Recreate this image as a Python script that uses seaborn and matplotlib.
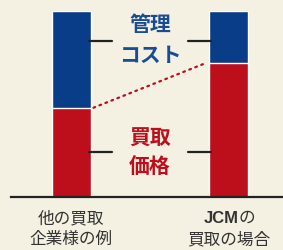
import matplotlib
matplotlib.use('Agg')
import matplotlib.pyplot as plt
import seaborn as sns
import pandas as pd

categories = ['他の買取\n企業様の例', 'JCMの\n買取の場合']
price = [48, 72]          # 買取価格 (red)
cost = [52, 28]           # 管理コスト (blue)
total = [p + c for p, c in zip(price, cost)]

df = pd.DataFrame({'cat': categories, 'price': price, 'total': total})

bg = '#F4F1E2'
blue = '#0A3D87'
red = '#BC0F1B'

sns.set_theme(style='white')
plt.rcParams['font.family'] = ['Noto Sans CJK JP', 'DejaVu Sans']

fig = plt.figure(figsize=(2.83, 2.5), dpi=100, facecolor=bg)
ax = fig.add_axes([11 / 283, 53 / 250, 272 / 283, 186 / 250])
ax.set_facecolor(bg)

# stacked bars: total in blue, price on top of it in red
sns.barplot(data=df, x='cat', y='total', color=blue, width=0.25,
            saturation=1, ax=ax)
sns.barplot(data=df, x='cat', y='price', color=red, width=0.25,
            saturation=1, ax=ax)

ax.set_xlim(-0.385, 1.347)
ax.set_ylim(0, 100)
ax.set_xlabel('')
ax.set_ylabel('')
ax.set_xticks([])
ax.set_yticks([])
for s in ['top', 'right', 'left']:
    ax.spines[s].set_visible(False)
ax.spines['bottom'].set_color('#222222')
ax.spines['bottom'].set_linewidth(1.6)

# dotted connection between tops of the red parts
ax.plot([0.14, 0.855], [price[0], price[1]], color=red, lw=1.6,
        linestyle=(0, (0.8, 2.1)), dash_capstyle='round', clip_on=False)

# leader lines
cost_mid = 84
price_mid = 24
for y in [cost_mid, price_mid]:
    ax.plot([0.11, 0.26], [y, y], color='#222222', lw=1.6, clip_on=False)
    ax.plot([0.74, 0.89], [y, y], color='#222222', lw=1.6, clip_on=False)

ax.text(0.5, 92.5, '管理', color='#1A4C95', fontsize=15, fontweight='bold',
        ha='center', va='center')
ax.text(0.5, 76, 'コスト', color='#1A4C95', fontsize=15, fontweight='bold',
        ha='center', va='center')
ax.text(0.5, 31.5, '買取', color=red, fontsize=15, fontweight='bold',
        ha='center', va='center')
ax.text(0.5, 16, '価格', color=red, fontsize=15, fontweight='bold',
        ha='center', va='center')

# category labels
lab = '#333333'
fs = 12
ax.text(0, -11.5, '他の買取', color=lab, fontsize=fs,
        ha='center', va='center', clip_on=False)
ax.text(0, -23, '企業様の例', color=lab, fontsize=fs,
        ha='center', va='center', clip_on=False)
ax.text(1.064, -11.5, 'JCM', color=lab, fontsize=fs, fontweight='bold',
        family=['Liberation Sans', 'DejaVu Sans'],
        ha='right', va='center', clip_on=False)
ax.text(1.064, -11.5, 'の', color=lab, fontsize=fs,
        ha='left', va='center', clip_on=False)
ax.text(1, -23, '買取の場合', color=lab, fontsize=fs,
        ha='center', va='center', clip_on=False)

fig.savefig('out.png', dpi=100, facecolor=bg)
